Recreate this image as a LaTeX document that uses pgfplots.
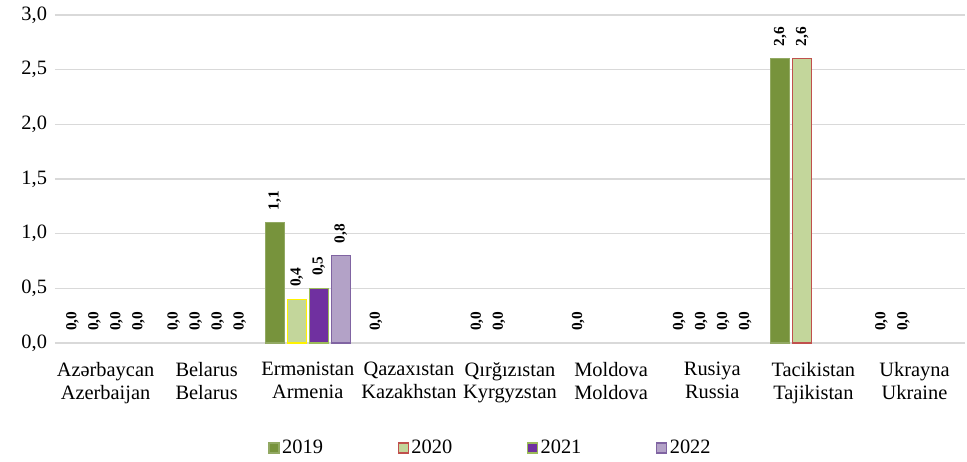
\documentclass[border=0pt]{standalone}
\usepackage{fontspec}
\setmainfont{Liberation Serif}
\usepackage{pgfplots}
\pgfplotsset{compat=1.18}

\definecolor{g19}{HTML}{77933C}
\definecolor{g20}{HTML}{C3D69B}
\definecolor{r20}{HTML}{C0504D}
\definecolor{p21}{HTML}{7030A0}
\definecolor{b21}{HTML}{9BBB59}
\definecolor{p22}{HTML}{B3A2C7}
\definecolor{b22}{HTML}{8064A2}
\definecolor{gridc}{HTML}{D9D9D9}

\begin{document}
\begin{tikzpicture}
\path[use as bounding box] (-41.25pt,-88.5pt) rectangle (684pt,257.25pt);
\begin{axis}[
    scale only axis,
    width=682.5pt, height=246pt,
    ybar, bar width=14.25pt,
    xmin=-0.5, xmax=8.5,
    ymin=0, ymax=3,
    ytick={0,0.5,1,1.5,2,2.5,3},
    xtick={0,1,2,3,4,5,6,7,8},
    xticklabels={{Azərbaycan\\Azerbaijan},{Belarus\\Belarus},{Ermənistan\\Armenia},
        {Qazaxıstan\\Kazakhstan},{Qırğızıstan\\Kyrgyzstan},{Moldova\\Moldova},
        {Rusiya\\Russia},{Tacikistan\\Tajikistan},{Ukrayna\\Ukraine}},
    xticklabel style={align=center, font=\fontsize{15.3}{17}\selectfont, yshift=-11pt},
    yticklabel style={font=\fontsize{15.3}{17}\selectfont, xshift=-2.5pt},
    /pgf/number format/assume math mode=true,
    /pgf/number format/.cd, use comma, fixed, fixed zerofill, precision=1,
    /pgfplots/.cd,
    ymajorgrids, grid style={gridc, line width=1pt},
    axis line style={draw=none},
    major tick length=0pt,
    nodes near coords,
    every node near coord/.append style={rotate=90, anchor=west, inner xsep=9pt,
        font=\fontsize{11.5}{12}\selectfont\bfseries, text=black},
    legend columns=4,
    legend image code/.code={\draw[#1] (0pt,-3.75pt) rectangle (7.5pt,3.75pt);},
    legend style={draw=none, at={(0.479,-0.32)}, anchor=center,
        font=\fontsize{15.3}{17}\selectfont,
        /tikz/every even column/.append style={column sep=54pt}},
]
% 2019
\addplot[fill=g19, draw=g19!80!white, line width=0.8pt, bar shift=-24.75pt]
    coordinates {(2,1.1)(7,2.6)};
% 2020
\addplot[fill=g20, draw=r20, line width=0.8pt, bar shift=-8.25pt]
    coordinates {(7,2.6)};
% 2021
\addplot[fill=p21, draw=b21, line width=0.8pt, bar shift=8.25pt]
    coordinates {(2,0.5)};
% 2022
\addplot[fill=p22, draw=b22, line width=0.8pt, bar shift=24.75pt]
    coordinates {(2,0.8)};
% 2020 Armenia, yellow border
\addplot[fill=g20, draw=yellow, line width=0.8pt, bar shift=-8.25pt, forget plot]
    coordinates {(2,0.4)};
% zero values (labels only)
\addplot[draw=none, fill=none, bar shift=-24.75pt, forget plot]
    coordinates {(0,0)(1,0)(3,0)(4,0)(5,0)(6,0)(8,0)};
\addplot[draw=none, fill=none, bar shift=-8.25pt, forget plot]
    coordinates {(0,0)(1,0)(4,0)(6,0)(8,0)};
\addplot[draw=none, fill=none, bar shift=8.25pt, forget plot]
    coordinates {(0,0)(1,0)(6,0)};
\addplot[draw=none, fill=none, bar shift=24.75pt, forget plot]
    coordinates {(0,0)(1,0)(6,0)};
\legend{2019,2020,2021,2022}
\end{axis}
\end{tikzpicture}
\end{document}
